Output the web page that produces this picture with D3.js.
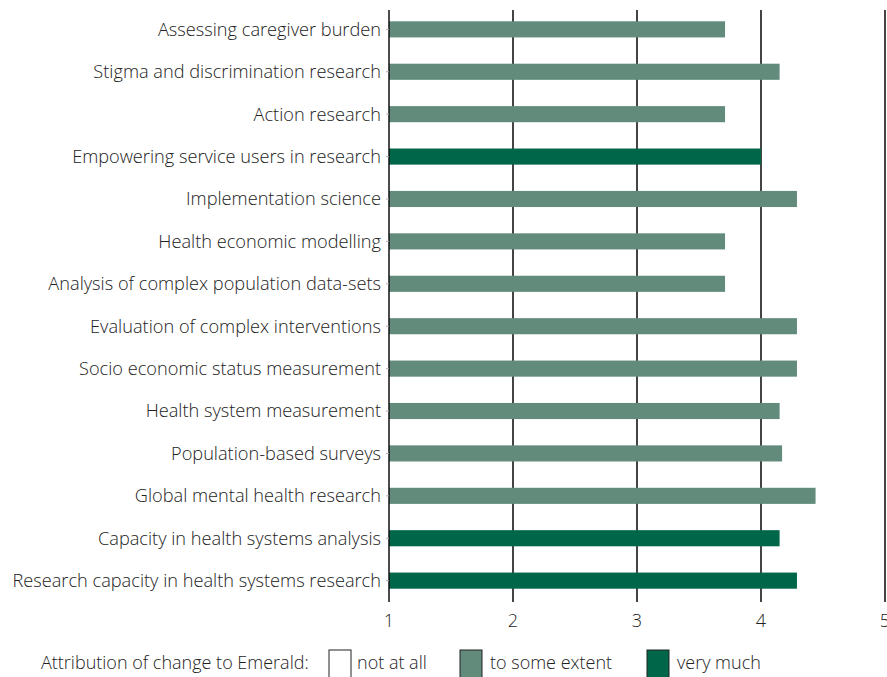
<!DOCTYPE html>
<html>
<head>
<meta charset="utf-8">
<script src="https://cdn.jsdelivr.net/npm/d3@7"></script>
<style>
  body { margin: 0; background: #fff; }
  svg { font-family: "Open Sans", sans-serif; font-weight: 300; }
  text { fill: #222; }
</style>
</head>
<body>
<div id="chart"></div>
<script>
var categories = [
  "Assessing caregiver burden",
  "Stigma and discrimination research",
  "Action research",
  "Empowering service users in research",
  "Implementation science",
  "Health economic modelling",
  "Analysis of complex population data-sets",
  "Evaluation of complex interventions",
  "Socio economic status measurement",
  "Health system measurement",
  "Population-based surveys",
  "Global mental health research",
  "Capacity in health systems analysis",
  "Research capacity in health systems research"
];
var scores = [3.71, 4.15, 3.71, 4.0, 4.29, 3.71, 3.71, 4.29, 4.29, 4.15, 4.17, 4.44, 4.15, 4.29];
var attribution = ["some", "some", "some", "much", "some", "some", "some", "some", "some", "some", "some", "some", "much", "much"];
var xTicks = [1, 2, 3, 4, 5];
var legendKeys = ["none", "some", "much"];
var legendLabels = ["not at all", "to some extent", "very much"];

var colors = { none: "#ffffff", some: "#638b7c", much: "#00664a" };

var width = 887, height = 677;
var margin = { top: 10, left: 389 };
var plotBottom = 602;

var svg = d3.select("#chart").append("svg")
    .attr("width", width)
    .attr("height", height);

var x = d3.scaleLinear().domain([1, 5]).range([margin.left, 885]);
var y = d3.scaleBand().domain(categories).range([9, 601]).paddingInner(0.62).paddingOuter(0.29);

// grid lines
svg.append("g")
  .selectAll("line")
  .data(xTicks.slice(1))
  .enter().append("line")
    .attr("x1", function(d) { return x(d); })
    .attr("x2", function(d) { return x(d); })
    .attr("y1", margin.top)
    .attr("y2", plotBottom)
    .style("stroke", "#444")
    .style("stroke-width", 2);

// bars
svg.append("g")
  .selectAll("rect")
  .data(categories)
  .enter().append("rect")
    .attr("x", x(1))
    .attr("y", function(d) { return y(d); })
    .attr("width", function(d, i) { return x(scores[i]) - x(1); })
    .attr("height", y.bandwidth())
    .style("fill", function(d, i) { return colors[attribution[i]]; });

// left axis line
svg.append("line")
    .attr("x1", x(1)).attr("x2", x(1))
    .attr("y1", margin.top).attr("y2", plotBottom)
    .style("stroke", "#111")
    .style("stroke-width", 1.5);

// category ticks
svg.append("g")
  .selectAll("line")
  .data(categories)
  .enter().append("line")
    .attr("x1", x(1) - 3).attr("x2", x(1))
    .attr("y1", function(d) { return y(d) + y.bandwidth() / 2; })
    .attr("y2", function(d) { return y(d) + y.bandwidth() / 2; })
    .style("stroke", "#aaa");

// category labels
svg.append("g")
  .selectAll("text")
  .data(categories)
  .enter().append("text")
    .attr("x", 381)
    .attr("y", function(d) { return y(d) + y.bandwidth() / 2; })
    .attr("dy", "0.35em")
    .attr("text-anchor", "end")
    .style("font-size", "18.2px")
    .text(function(d) { return d; });

// x tick labels
svg.append("g")
  .selectAll("text")
  .data(xTicks)
  .enter().append("text")
    .attr("x", function(d) { return x(d); })
    .attr("y", 621)
    .attr("dy", "0.35em")
    .attr("text-anchor", "middle")
    .style("font-size", "18px")
    .text(function(d) { return d; });

// legend
var legend = svg.append("g").attr("class", "legend");
legend.append("text")
    .attr("x", 41).attr("y", 663)
    .attr("dy", "0.35em")
    .style("font-size", "18px")
    .text("Attribution of change to Emerald:");

var legendX = [329, 460, 647];
var legendGap = [28, 30, 30];
legend.selectAll("g")
  .data(legendKeys)
  .enter().append("g")
  .each(function(d, i) {
    var g = d3.select(this);
    g.append("rect")
      .attr("x", legendX[i]).attr("y", 650)
      .attr("width", 22).attr("height", 30)
      .style("fill", colors[d])
      .style("stroke", "#222")
      .style("stroke-width", 1);
    g.append("text")
      .attr("x", legendX[i] + legendGap[i]).attr("y", 663)
      .attr("dy", "0.35em")
      .style("font-size", "18px")
      .text(legendLabels[i]);
  });
</script>
</body>
</html>
